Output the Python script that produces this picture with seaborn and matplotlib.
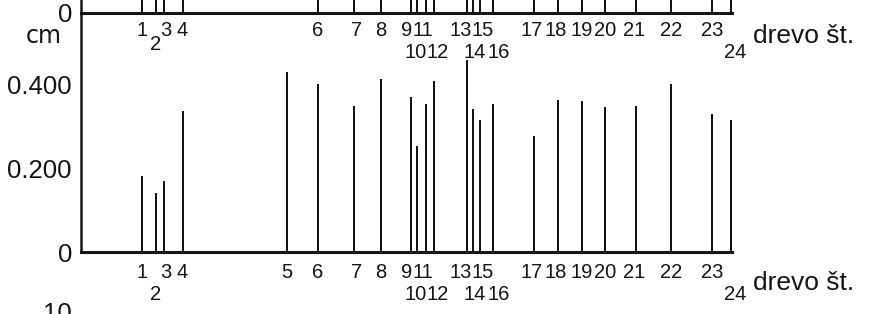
import matplotlib
matplotlib.use('Agg')
import matplotlib.pyplot as plt
import seaborn as sns
import pandas as pd

# tree numbers and their position along the line (m)
trees = list(range(1, 25))
position = [6.1, 7.5, 8.3, 10.2, 20.6, 23.7, 27.3, 30.0, 33.0, 33.6, 34.5, 35.3,
            38.6, 39.2, 39.9, 41.2, 45.3, 47.7, 50.1, 52.4, 55.5, 59.0, 63.1, 65.0]
# increment (cm), lower panel
increment = [0.181, 0.142, 0.169, 0.337, 0.431, 0.402, 0.349, 0.415, 0.371, 0.255, 0.354, 0.410,
             0.459, 0.342, 0.315, 0.354, 0.277, 0.364, 0.362, 0.347, 0.350, 0.402, 0.331, 0.315]
# upper panel (tree 5 missing there), only the bottom of the bars is visible
trees_top = [t for t in trees if t != 5]
increment_top = [0.21, 0.18, 0.19, 0.35, 0.42, 0.36, 0.44, 0.38, 0.27, 0.37, 0.41,
                 0.47, 0.35, 0.33, 0.36, 0.29, 0.38, 0.37, 0.35, 0.36, 0.41, 0.34, 0.32]

second_row = {2, 10, 12, 14, 16, 24}
nudge_px = {3: 2, 4: -1, 7: 3, 9: -4, 10: -1, 11: -3, 12: 4, 13: -6, 14: 2, 15: 3, 16: 6,
            17: -2, 18: -2, 21: -2, 24: 4}

df = pd.DataFrame({'tree': trees, 'pos': position, 'cm': increment})
pos_of = dict(zip(trees, position))
df_top = pd.DataFrame({'tree': trees_top, 'pos': [pos_of[t] for t in trees_top],
                       'cm': increment_top})

sns.set_style('white')
plt.rcParams['font.family'] = ['Liberation Sans', 'DejaVu Sans']
ink = '#151515'
PT = 0.72  # points per pixel at 100 dpi

W, H = 870, 314
fig = plt.figure(figsize=(W / 100, H / 100), dpi=100)
ax = fig.add_axes([81 / W, (H - 252) / H, 651 / W, 239 / H])
ax_top = fig.add_axes([81 / W, (H - 13) / H, 651 / W, 239 / H])

for a, d in ((ax, df), (ax_top, df_top)):
    sns.barplot(data=d, x='pos', y='cm', native_scale=True, width=0.4,
                color=ink, saturation=1, linewidth=0, errorbar=None, ax=a)
    a.set_xlim(0, 65.1)
    a.set_ylim(0, 239 / 417.5)
    a.set_xticks([])
    a.set_xlabel('')
    a.set_ylabel('')
    for s in ('top', 'right'):
        a.spines[s].set_visible(False)
    a.spines['left'].set_linewidth(1.8)
    a.spines['bottom'].set_linewidth(2.2)
    a.spines['left'].set_color(ink)
    a.spines['bottom'].set_color(ink)
    a.tick_params(axis='y', length=0, pad=6.5, labelsize=18.5, labelcolor=ink)

ax.set_yticks([0, 0.2, 0.4], ['0', '0.200', '0.400'])
ax_top.set_yticks([0], ['0'])

# tree number labels, in two rows where they crowd
for a, tlist, r1, r2 in ((ax, trees, 20, 43), (ax_top, trees_top, 17.5, 40)):
    for t in tlist:
        dy = r2 if t in second_row else r1
        if a is ax_top and t == 2:
            dy = 32
        a.annotate(str(t), xy=(pos_of[t], 0), xycoords=('data', 'axes fraction'),
                   xytext=(nudge_px.get(t, 0) * PT, -dy * PT), textcoords='offset points',
                   ha='center', va='center', fontsize=14.5, color=ink,
                   annotation_clip=False)

for a, base in ((ax, 38), (ax_top, 30)):
    a.annotate('drevo št.', xy=(1, 0), xycoords='axes fraction',
               xytext=(21 * PT, -base * PT), textcoords='offset points',
               ha='left', va='baseline', fontsize=19, color=ink,
               annotation_clip=False)

fig.text(43.5 / W, (H - 43) / H, 'cm', ha='center', va='baseline', fontsize=17,
         color=ink, family='DejaVu Sans')
fig.text(72 / W, (H - 302) / H, '10', ha='right', va='top', fontsize=18.5, color=ink)

fig.savefig('out.png', dpi=100)
